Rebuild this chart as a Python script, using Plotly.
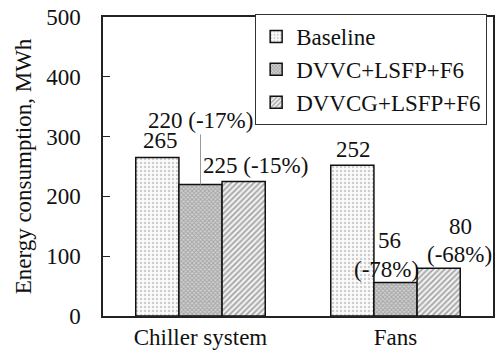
import plotly.graph_objects as go

categories = ["Chiller system", "Fans"]
series_names = ["Baseline", "DVVC+LSFP+F6", "DVVCG+LSFP+F6"]
baseline = [265, 252]
dvvc = [220, 56]
dvvcg = [225, 80]
dvvc_pct = ["-17%", "-78%"]
dvvcg_pct = ["-15%", "-68%"]
y_ticks = [0, 100, 200, 300, 400, 500]

FONT = "Liberation Serif"
fs = 23

patterns = [
    dict(shape=".", fgcolor="#a0a0a0", bgcolor="#fbfbfb", size=4, solidity=0.3),
    dict(shape="x", fgcolor="#777777", bgcolor="#d0d0d0", size=3, solidity=0.5),
    dict(shape="/", fgcolor="#555555", bgcolor="#f2f2f2", size=4, solidity=0.45),
]

fig = go.Figure()
for name, vals, pat in zip(series_names, [baseline, dvvc, dvvcg], patterns):
    fig.add_trace(go.Bar(
        x=categories, y=vals, name=name,
        marker=dict(color="white", pattern=pat, line=dict(color="#111111", width=1.5)),
    ))

bw = (1 - 0.336) / 3
tf = dict(family=FONT, size=fs, color="#111")

def lab(x, y, text, xs=0, ys=0):
    fig.add_annotation(x=x, y=y, text=text, showarrow=False, yanchor="middle",
                       xanchor="center", xshift=xs, yshift=ys, font=tf)

# Chiller system
lab(0 - bw, baseline[0], str(baseline[0]), 3, 17)
fig.add_annotation(x=0, y=dvvc[0], text=f"{dvvc[0]} ({dvvc_pct[0]})", showarrow=True,
                   arrowhead=0, arrowwidth=1, arrowcolor="#999", ax=0, ay=-64, font=tf)
lab(0 + bw, dvvcg[0], f"{dvvcg[0]} ({dvvcg_pct[0]})", 12, 16)
# Fans
lab(1 - bw, baseline[1], str(baseline[1]), 1, 16)
lab(1, dvvc[1], str(dvvc[1]), -6, 42)
lab(1, dvvc[1], f"({dvvc_pct[1]})", -9, 13)
lab(1 + bw, dvvcg[1], str(dvvcg[1]), 22, 42)
lab(1 + bw, dvvcg[1], f"({dvvcg_pct[1]})", 21, 14)

fig.update_layout(
    width=499, height=361,
    margin=dict(l=103, r=4, t=17, b=45),
    paper_bgcolor="white", plot_bgcolor="white",
    barmode="group", bargap=0.336, bargroupgap=0,
    font=dict(family=FONT, size=fs, color="#111"),
    showlegend=True,
    legend=dict(x=0.985, y=1.01, xanchor="right", yanchor="top",
                bordercolor="#333", borderwidth=1, bgcolor="white",
                font=dict(family=FONT, size=fs), itemwidth=30,
                tracegroupgap=0),
    xaxis=dict(showline=True, linecolor="#222", linewidth=1.5, mirror=True,
               ticks="", tickfont=dict(size=fs), range=[-0.5, 1.5]),
    yaxis=dict(range=[0, 500], tickvals=y_ticks, showline=True, linecolor="#222",
               linewidth=1.5, mirror=True, ticks="inside", ticklen=7, tickcolor="#222",
               ticklabelstandoff=16,
               showgrid=False, zeroline=False, tickfont=dict(size=fs),
               title=dict(text="Energy consumption, MWh", font=dict(size=fs), standoff=8)),
)

fig.write_html("out.html")
